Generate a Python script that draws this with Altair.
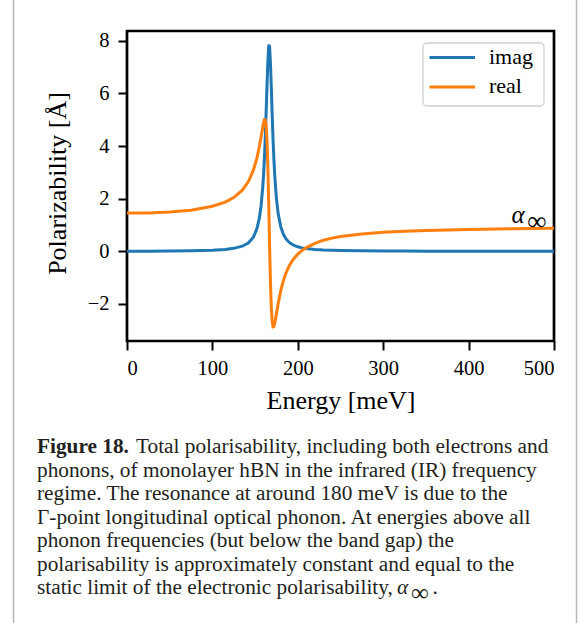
import altair as alt
import pandas as pd

# ---- data ----
energy = [0, 25, 50, 75, 100, 115, 125, 135, 142, 148, 152, 155, 157, 159, 160, 161,
          162, 163, 164, 165, 166, 166.5, 167, 168, 169, 170, 171, 172, 173, 175, 177,
          180, 183, 186, 190, 195, 200, 205, 210, 220, 230, 240, 250, 275, 300, 325,
          350, 400, 450, 500]
imag = [0.0, 0.004, 0.010, 0.020, 0.042, 0.071, 0.111, 0.192, 0.314, 0.537, 0.841, 1.261,
        1.723, 2.449, 2.961, 3.606, 4.403, 5.344, 6.357, 7.262, 7.795, 7.85, 7.749, 7.142,
        6.205, 5.194, 4.272, 3.499, 2.875, 1.991, 1.433, 0.936, 0.653, 0.479, 0.337, 0.232,
        0.169, 0.128, 0.101, 0.067, 0.047, 0.035, 0.027, 0.016, 0.010, 0.007, 0.005, 0.003,
        0.002, 0.001]
real = [1.45, 1.45, 1.49, 1.56, 1.71, 1.87, 2.04, 2.32, 2.64, 3.08, 3.52, 3.98, 4.34, 4.73,
        4.90, 5.00, 4.99, 4.75, 4.17, 3.16, 1.75, 0.95, 0.16, -1.20, -2.15, -2.67, -2.87,
        -2.86, -2.74, -2.37, -1.99, -1.50, -1.13, -0.84, -0.55, -0.29, -0.11, 0.03, 0.14,
        0.30, 0.42, 0.50, 0.56, 0.66, 0.72, 0.76, 0.79, 0.83, 0.86, 0.87]

series_names = ["imag", "real"]
series_colors = ["#1f77b4", "#ff7f0e"]
x_ticks = [0, 100, 200, 300, 400, 500]
y_ticks = [-2, 0, 2, 4, 6, 8]

caption_head = "Figure 18."
caption_line1 = "Total polarisability, including both electrons and"
caption_rest = ("phonons, of monolayer hBN in the infrared (IR) frequency\n"
                "regime. The resonance at around 180 meV is due to the\n"
                "Γ-point longitudinal optical phonon. At energies above all\n"
                "phonon frequencies (but below the band gap) the\n"
                "polarisability is approximately constant and equal to the")
caption_last = "static limit of the electronic polarisability,"

n = len(energy)
df = pd.DataFrame({
    "Energy": energy + energy,
    "value": imag + real,
    "series": ["imag"] * n + ["real"] * n,
})

SERIF = "Liberation Serif"
one = pd.DataFrame({"a": [0]})

xscale = alt.Scale(domain=[0, 500], nice=False, zero=False)
yscale = alt.Scale(domain=[-3.41, 8.37], nice=False, zero=False)

lines = alt.Chart(df).mark_line(strokeWidth=3).encode(
    x=alt.X("Energy:Q", scale=xscale,
            axis=alt.Axis(values=x_ticks, title="Energy [meV]",
                          titleX=213.5, titleY=67)),
    y=alt.Y("value:Q", scale=yscale,
            axis=alt.Axis(values=y_ticks, title="Polarizability [Å]",
                          titleAngle=270, titleX=-62, titleY=152)),
    color=alt.Color("series:N", scale=alt.Scale(domain=series_names, range=series_colors),
                    legend=None),
    order=alt.Order("Energy:Q"),
)

# alpha_infinity annotation (data coordinates)
ann = pd.DataFrame({"Energy": [458, 480], "value": [1.08, 1.13], "t": ["α", "∞"]})
alpha = alt.Chart(ann.iloc[[0]]).mark_text(font=SERIF, fontSize=25, fontStyle="italic",
                                           baseline="alphabetic", align="center",
                                           color="black").encode(
    x="Energy:Q", y="value:Q", text="t:N")
infty = alt.Chart(ann.iloc[[1]]).mark_text(font=SERIF, fontSize=27, baseline="middle",
                                           align="center", color="black").encode(
    x="Energy:Q", y="value:Q", text="t:N")

# legend (decoration)
legend_box = alt.Chart(one).mark_rect(cornerRadius=4, fill="white", stroke="#cccccc",
                                      strokeWidth=1.3, opacity=0.9).encode(
    x=alt.value(296), x2=alt.value(417), y=alt.value(12), y2=alt.value(75))
legend_layers = []
for i, (name, col) in enumerate(zip(series_names, series_colors)):
    yy = 26.5 + i * 29.4
    legend_layers.append(alt.Chart(one).mark_rule(color=col, strokeWidth=3).encode(
        x=alt.value(302.5), x2=alt.value(348), y=alt.value(yy)))
    legend_layers.append(alt.Chart(one).mark_text(font=SERIF, fontSize=22, align="left",
                                                  baseline="middle", color="black").encode(
        x=alt.value(362), y=alt.value(yy - 1), text=alt.value(name)))

# caption
CAP = 21.3
LH = 23.55
Y1 = 422
Y7 = Y1 + 6 * LH
cap_col = "#231f20"
cap1 = alt.Chart(one).mark_text(font=SERIF, fontSize=CAP, fontWeight="bold", align="left",
                                baseline="alphabetic", color=cap_col).encode(
    x=alt.value(-90), y=alt.value(Y1), text=alt.value(caption_head))
cap2 = alt.Chart(one).mark_text(font=SERIF, fontSize=CAP, align="left",
                                baseline="alphabetic", color=cap_col).encode(
    x=alt.value(9), y=alt.value(Y1), text=alt.value(caption_line1))
cap3 = alt.Chart(one).mark_text(font=SERIF, fontSize=CAP, align="left",
                                baseline="alphabetic", color=cap_col, lineBreak="\n",
                                lineHeight=LH).encode(
    x=alt.value(-90), y=alt.value(Y1 + LH), text=alt.value(caption_rest))
cap4 = alt.Chart(one).mark_text(font=SERIF, fontSize=CAP, align="left",
                                baseline="alphabetic", color=cap_col).encode(
    x=alt.value(-90), y=alt.value(Y7), text=alt.value(caption_last))
cap5 = alt.Chart(one).mark_text(font=SERIF, fontSize=CAP, fontStyle="italic", align="left",
                                baseline="alphabetic", color=cap_col).encode(
    x=alt.value(270), y=alt.value(Y7), text=alt.value("α"))
cap6 = alt.Chart(one).mark_text(font=SERIF, fontSize=25, align="left",
                                baseline="alphabetic", color=cap_col).encode(
    x=alt.value(284), y=alt.value(Y7 + 6.5), text=alt.value("∞"))
cap7 = alt.Chart(one).mark_text(font=SERIF, fontSize=CAP, align="left",
                                baseline="alphabetic", color=cap_col).encode(
    x=alt.value(305.5), y=alt.value(Y7), text=alt.value("."))

# outer panel border lines
border_l = alt.Chart(one).mark_rule(color="#b8b8b8", strokeWidth=1.5).encode(
    x=alt.value(-113.5), y=alt.value(-31), y2=alt.value(592))
border_r = alt.Chart(one).mark_rule(color="#b8b8b8", strokeWidth=1.5).encode(
    x=alt.value(449.5), y=alt.value(-31), y2=alt.value(592))

chart = alt.layer(
    lines, alpha, infty, legend_box, *legend_layers,
    cap1, cap2, cap3, cap4, cap5, cap6, cap7, border_l, border_r
).properties(
    width=427, height=310,
    autosize=alt.AutoSizeParams(type="none"),
    padding={"left": 127, "top": 31, "right": 27, "bottom": 282},
    background="white",
).configure_view(stroke="black", strokeWidth=2.7).configure_axis(
    grid=False, domain=False, tickSize=9, tickWidth=2, tickColor="black",
    labelFont=SERIF, labelFontSize=20.5, labelColor="black",
    titleFont=SERIF, titleFontSize=26, titleFontWeight="normal", titleColor="black",
    titleBaseline="alphabetic", titleAlign="center",
).configure_axisX(labelPadding=8).configure_axisY(labelPadding=9)

chart.save("out.html", embed_options={"renderer": "svg", "actions": False})
